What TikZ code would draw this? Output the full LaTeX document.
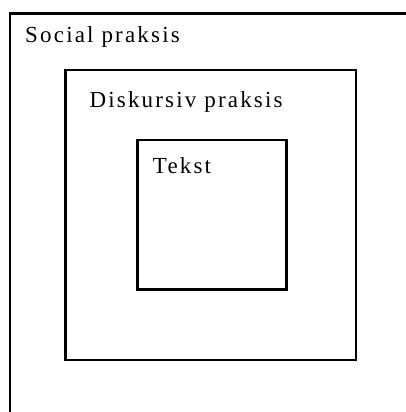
\documentclass[tikz,border=0pt]{standalone}
\usepackage{fontspec}
\setmainfont{Liberation Serif}[LetterSpace=9.5]
\begin{document}
\begin{tikzpicture}[x=1pt,y=-1pt,
  frame/.style={draw=black,line width=2.6pt},
  caption/.style={anchor=base west,inner sep=0pt,font=\fontsize{23}{26}\selectfont}]
\useasboundingbox (0,0) rectangle (406,412);
% outer level, running off the right and bottom edges
\draw[frame] (10,420) -- (10,13.5) -- (415,13.5);
% middle and inner levels
\draw[frame] (65.5,70) rectangle (356,360);
\draw[frame] (137.5,140) rectangle (286.5,289.5);
\node[caption] (social) at (25,42.3) {Social praksis};
\node[caption] (diskursiv) at (89.3,107.3) {Diskursiv praksis};
\node[caption] (tekst) at (152.7,173.3) {Tekst};
\end{tikzpicture}
\end{document}
